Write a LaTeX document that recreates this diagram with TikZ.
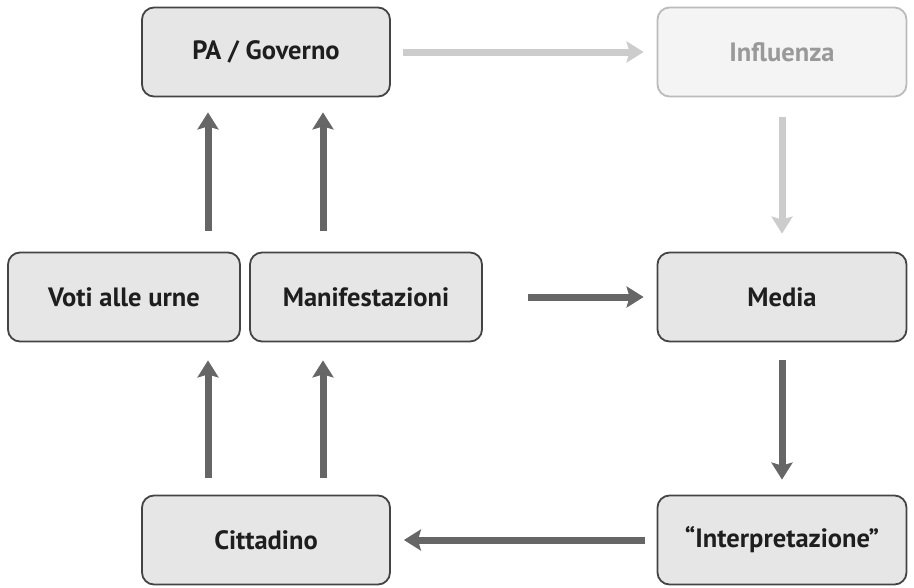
\documentclass[tikz,border=0pt]{standalone}
\usepackage{fontspec}
\setmainfont{PT Sans}
\usetikzlibrary{arrows.meta}
\definecolor{boxfill}{HTML}{E6E6E6}
\definecolor{boxline}{HTML}{444444}
\definecolor{txt}{HTML}{1E1E1E}
\definecolor{flow}{HTML}{666666}
\definecolor{fadefill}{HTML}{F4F4F4}
\definecolor{fadeline}{HTML}{BBBBBB}
\definecolor{fadetxt}{HTML}{999999}
\definecolor{fadeflow}{HTML}{CCCCCC}
\begin{document}
\begin{tikzpicture}[x=1pt,y=-1pt,
  box/.style={draw=boxline, fill=boxfill, line width=1.8pt, rounded corners=12pt,
    minimum height=89pt, text=txt, font=\fontsize{26.5}{30}\selectfont\bfseries, inner sep=0pt},
  fadebox/.style={box, draw=fadeline, fill=fadefill, text=fadetxt},
  flowarrow/.style={draw=flow, line width=7pt, -{Stealth[width=21pt,length=17pt,inset=3pt]}},
  fadearrow/.style={flowarrow, draw=fadeflow}]
\useasboundingbox (0,0) rectangle (914,587);
% boxes
\node[box, minimum width=248pt] (pa) at (266,52) {PA / Governo};
\node[fadebox, minimum width=249pt] (infl) at (782,52) {Influenza};
\node[box, minimum width=232pt] (voti) at (124,297) {Voti alle urne};
\node[box, minimum width=232pt] (man) at (366,297) {Manifestazioni};
\node[box, minimum width=249pt] (media) at (782,297) {Media};
\node[box, minimum width=248pt] (citt) at (266,540) {Cittadino};
\node[box, minimum width=249pt] (interp) at (782,540) {“Interpretazione”};
% columns of the upward arrows
\coordinate (colA) at (208,0);
\coordinate (colB) at (323,0);
% connectors
\draw[fadearrow, shorten <=12pt, shorten >=13pt] (pa.east) -- (infl.west);
\draw[fadearrow, shorten <=20pt, shorten >=18pt] (infl.south) -- (media.north);
\draw[flowarrow, shorten <=45pt, shorten >=13pt] (man.east) -- (media.west);
\draw[flowarrow, shorten <=18pt, shorten >=15pt] (media.south) -- (interp.north);
\draw[flowarrow, shorten <=12pt, shorten >=13pt] (interp.west) -- (citt.east);
\draw[flowarrow, shorten <=17pt, shorten >=18pt] (citt.north -| colA) -- (voti.south -| colA);
\draw[flowarrow, shorten <=17pt, shorten >=18pt] (citt.north -| colB) -- (man.south -| colB);
\draw[flowarrow, shorten <=21pt, shorten >=15pt] (voti.north -| colA) -- (pa.south -| colA);
\draw[flowarrow, shorten <=21pt, shorten >=15pt] (man.north -| colB) -- (pa.south -| colB);
\end{tikzpicture}
\end{document}
